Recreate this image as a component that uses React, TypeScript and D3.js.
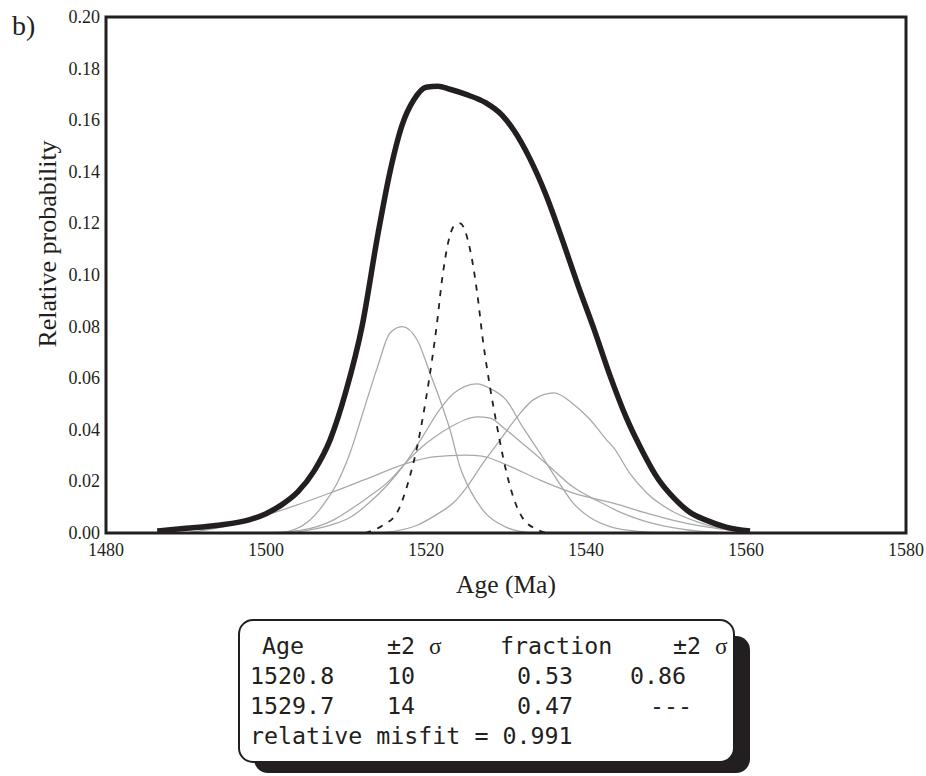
import React from "react";
import * as d3 from "d3";

type Pt = [number, number];

// Summed probability curve (thick)
const sumCurve: Pt[] = [
  [1486.4, 0.0008], [1490, 0.0018], [1494, 0.003], [1498, 0.0052], [1500, 0.0075],
  [1502, 0.011], [1504, 0.016], [1506, 0.024], [1508, 0.036], [1510, 0.055],
  [1512, 0.08], [1514, 0.116], [1515.5, 0.14], [1517, 0.158], [1518.5, 0.168],
  [1520, 0.1728], [1521.5, 0.1732], [1523, 0.172], [1525, 0.17], [1527.5, 0.1667],
  [1529.5, 0.162], [1531, 0.156], [1533, 0.145], [1535, 0.131], [1537, 0.114],
  [1539, 0.096], [1541, 0.079], [1543, 0.061], [1545, 0.045], [1547, 0.032],
  [1549, 0.021], [1551, 0.0135], [1553, 0.008], [1555, 0.005], [1557.5, 0.0023],
  [1560.5, 0.0008],
];

// Dashed component curve
const dashedCurve: Pt[] = [
  [1512.4, 0], [1514.6, 0.003], [1516.4, 0.008], [1517.75, 0.0194], [1519, 0.035],
  [1520, 0.052], [1520.75, 0.067], [1521.4, 0.082], [1522, 0.098], [1522.8, 0.113],
  [1523.5, 0.119], [1524.25, 0.12], [1525.5, 0.11], [1526.4, 0.093], [1527.1, 0.075],
  [1528, 0.0566], [1528.9, 0.041], [1529.9, 0.0256], [1530.75, 0.0155], [1532, 0.0062],
  [1534, 0.0012], [1535, 0],
];

// Individual grey curves
const curveA: Pt[] = [
  [1502, 0], [1505.5, 0.005], [1507.6, 0.0128], [1508.9, 0.0194], [1510.5, 0.031],
  [1512.1, 0.0465], [1513.9, 0.064], [1515.5, 0.0775], [1517, 0.08], [1518.9, 0.0748],
  [1520.5, 0.062], [1521.75, 0.0516], [1523, 0.04], [1524.25, 0.0256], [1525.5, 0.0167],
  [1527.1, 0.0089], [1530, 0.0023], [1533, 0],
];
const curveB: Pt[] = [
  [1503, 0], [1506, 0.0015], [1508, 0.003], [1510.5, 0.006], [1513, 0.012],
  [1515, 0.018], [1517.4, 0.027], [1519.5, 0.037], [1521.75, 0.048], [1523.4, 0.054],
  [1526.4, 0.0578], [1528, 0.056], [1530, 0.0516], [1532.1, 0.041], [1534.25, 0.031],
  [1536.4, 0.0205], [1538.4, 0.0116], [1540.5, 0.006], [1543, 0.0025], [1547, 0.0005],
  [1550, 0],
];
const curveC: Pt[] = [
  [1500, 0], [1504.25, 0.001], [1508.4, 0.005], [1510.5, 0.009], [1512.6, 0.0135],
  [1515.5, 0.0205], [1517.4, 0.027], [1519, 0.032], [1521, 0.037], [1523, 0.041],
  [1526.5, 0.045], [1528, 0.0445], [1530, 0.04], [1532.6, 0.0333], [1535.5, 0.0256],
  [1538.4, 0.0178], [1541.75, 0.012], [1544.25, 0.0081], [1548, 0.004], [1552, 0.0015],
  [1556, 0.0003], [1558, 0],
];
const curveD: Pt[] = [
  [1490, 0], [1494, 0.002], [1498, 0.005], [1500.1, 0.007], [1504, 0.011],
  [1508, 0.0155], [1512.6, 0.021], [1517.6, 0.027], [1520.9, 0.0295], [1525, 0.0302],
  [1527, 0.0298], [1530, 0.0265], [1534.25, 0.0205], [1538.4, 0.0155], [1543.4, 0.0116],
  [1547.6, 0.0077], [1551.75, 0.0043], [1555.9, 0.002], [1560, 0.0004],
];
const curveF: Pt[] = [
  [1514.5, 0], [1518.9, 0.003], [1521.75, 0.008], [1523.4, 0.0116], [1525.1, 0.0178],
  [1527.1, 0.027], [1529.25, 0.036], [1531.4, 0.045], [1533.4, 0.0516], [1536, 0.0543],
  [1538.4, 0.05], [1540.5, 0.044], [1542.6, 0.036], [1543.4, 0.0333], [1545.5, 0.023],
  [1547.6, 0.0155], [1550.5, 0.0089], [1553.9, 0.0043], [1558, 0.001], [1560, 0],
];
const greyCurves: Pt[][] = [curveA, curveB, curveC, curveD, curveF];

const xTicks = [1480, 1500, 1520, 1540, 1560, 1580];
const yTicks = [0, 0.02, 0.04, 0.06, 0.08, 0.1, 0.12, 0.14, 0.16, 0.18, 0.2];

// Table content
const tableHeader = ["Age", "±2 σ", "fraction", "±2 σ"];
const tableRows = [
  ["1520.8", "10", "0.53", "0.86"],
  ["1529.7", "14", "0.47", "---"],
];
const misfitText = "relative misfit = 0.991";

const W = 926;
const H = 776;
const L = 106, R = 906, T = 17, B = 533;
const ink = "#231f20";
const serif = "'Liberation Serif', 'Times New Roman', serif";
const mono = "'DejaVu Sans Mono', 'Liberation Mono', monospace";

function renderSigma(s: string, key: string | number) {
  if (!s.includes("σ")) return s;
  const parts = s.split("σ");
  return (
    <>
      {parts[0]}
      <tspan fontFamily={serif} key={key}>σ</tspan>
      {parts[1]}
    </>
  );
}

export default function App() {
  const x = d3.scaleLinear().domain([1480, 1580]).range([L, R]);
  const y = d3.scaleLinear().domain([0, 0.2]).range([B, T]);
  const line = d3
    .line<Pt>()
    .x((d) => x(d[0]))
    .y((d) => y(d[1]))
    .curve(d3.curveMonotoneX);

  const headerX = [262, 387, 500, 673];
  const rowX = [250, 387, 517, 630];
  const rowY = [654, 684, 714, 744];

  return (
    <svg
      width={W}
      height={H}
      style={{ position: "absolute", left: 0, top: 0, background: "#fff" }}
    >
      <rect x={0} y={0} width={W} height={H} fill="#fff" />
      {/* panel label */}
      <text x={12} y={35} fontFamily={serif} fontSize={28} fill={ink}>
        b)
      </text>

      {/* grey curves */}
      {greyCurves.map((c, i) => (
        <path key={i} d={line(c) || ""} fill="none" stroke="#a7a9ac" strokeWidth={1.3} />
      ))}
      {/* dashed curve */}
      <path
        d={line(dashedCurve) || ""}
        fill="none"
        stroke={ink}
        strokeWidth={1.8}
        strokeDasharray="6,7"
      />
      {/* summed curve */}
      <path d={line(sumCurve) || ""} fill="none" stroke={ink} strokeWidth={5.5} />

      {/* frame */}
      <rect
        x={L}
        y={T}
        width={R - L}
        height={B - T}
        fill="none"
        stroke={ink}
        strokeWidth={3}
      />

      {/* y tick labels */}
      {yTicks.map((t) => (
        <text
          key={t}
          x={L - 6}
          y={y(t)}
          dy="0.33em"
          textAnchor="end"
          fontFamily={serif}
          fontSize={18}
          fill={ink}
        >
          {d3.format(".2f")(t)}
        </text>
      ))}
      {/* x tick labels */}
      {xTicks.map((t) => (
        <text
          key={t}
          x={x(t)}
          y={556}
          textAnchor="middle"
          fontFamily={serif}
          fontSize={18}
          fill={ink}
        >
          {t}
        </text>
      ))}

      {/* axis titles */}
      <text
        x={(L + R) / 2}
        y={593}
        textAnchor="middle"
        fontFamily={serif}
        fontSize={25.5}
        fill={ink}
      >
        Age (Ma)
      </text>
      <text
        transform={`translate(56, 244) rotate(-90)`}
        textAnchor="middle"
        fontFamily={serif}
        fontSize={26}
        fill={ink}
      >
        Relative probability
      </text>

      {/* results box */}
      <rect x={254} y={636} width={496} height={137} rx={14} fill={ink} />
      <rect
        x={239}
        y={620}
        width={495}
        height={142}
        rx={14}
        fill="#fff"
        stroke={ink}
        strokeWidth={2}
      />
      <g fontFamily={mono} fontSize={23.3} fill={ink}>
        {tableHeader.map((h, i) => (
          <text key={"h" + i} x={headerX[i]} y={rowY[0]}>
            {renderSigma(h, i)}
          </text>
        ))}
        {tableRows.map((r, ri) =>
          r.map((c, ci) => (
            <text key={ri + "-" + ci} x={rowX[ci] + (ci === 3 && c === "---" ? 20 : 0)} y={rowY[ri + 1]}>
              {c}
            </text>
          ))
        )}
        <text x={250} y={rowY[3]}>
          {misfitText}
        </text>
      </g>
    </svg>
  );
}
